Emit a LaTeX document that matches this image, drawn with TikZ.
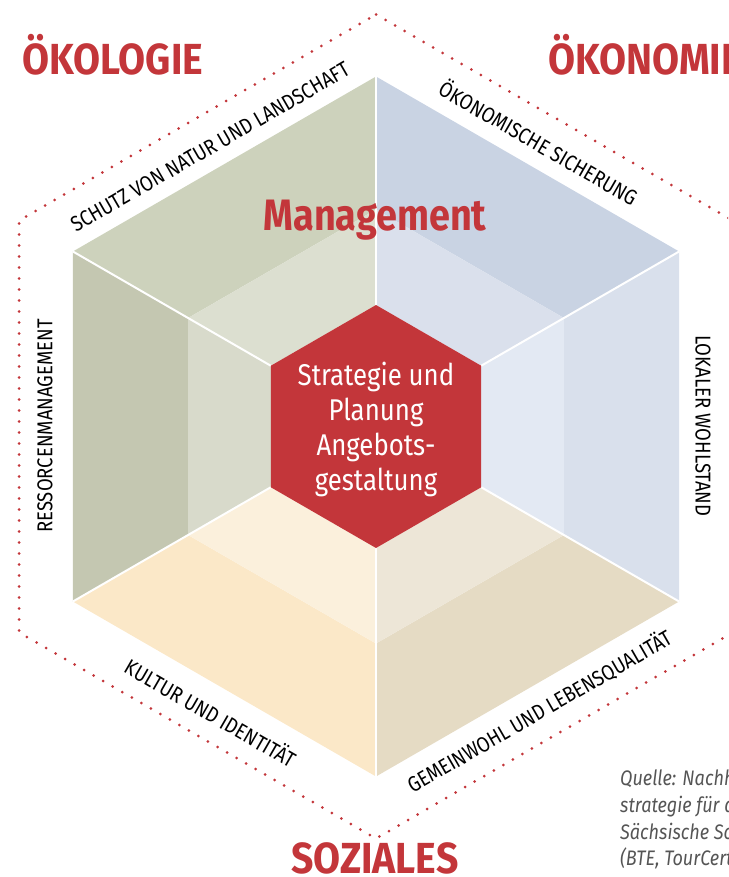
\documentclass[tikz,border=0pt]{standalone}
\usepackage{fontspec}
\setmainfont{Fira Sans}[FakeStretch=0.86]
\newfontfamily\titlefam{Fira Sans}[FakeStretch=0.9]
\definecolor{hexred}{HTML}{C3363A}
\definecolor{tlout}{HTML}{CDD2BC}
\definecolor{tlin}{HTML}{DCDFD0}
\definecolor{lout}{HTML}{C4C7B1}
\definecolor{lin}{HTML}{D8DACB}
\definecolor{trout}{HTML}{C9D3E3}
\definecolor{trin}{HTML}{DAE0EC}
\definecolor{rout}{HTML}{D9E0EC}
\definecolor{rin}{HTML}{E3E9F3}
\definecolor{brout}{HTML}{E5DBC4}
\definecolor{brin}{HTML}{EDE6D7}
\definecolor{blout}{HTML}{FBE8C8}
\definecolor{blin}{HTML}{FBF0DC}
\definecolor{srcgray}{HTML}{555555}
\tikzset{
  spoke/.style={draw=white, line width=2pt},
  dotline/.style={draw=hexred, line width=3pt, dash pattern=on 0pt off 11pt, line cap=round},
  edgelabel/.style={font=\fontsize{21.5}{21.5}\selectfont, text=black, inner sep=0pt},
  titletext/.style={font=\titlefam\fontsize{43.5}{43.5}\selectfont\bfseries, text=hexred, inner sep=0pt},
  mgmttext/.style={font=\fontsize{44}{44}\selectfont\bfseries, text=hexred, inner sep=0pt},
  coretext/.style={font=\fontsize{30}{35}\selectfont, text=white, align=center, inner sep=0pt},
  srctext/.style={font=\fontsize{21}{26}\selectfont\itshape, text=srcgray, inner sep=0pt, anchor=base west}
}
\begin{document}
\begin{tikzpicture}[x=1pt,y=-1pt]
\useasboundingbox (0,0) rectangle (728,877);
\begin{scope}
\clip (0,0) rectangle (728,877);
% outer hexagon vertices
\coordinate (O1) at (376,76.5);
\coordinate (O2) at (679.1,251.5);
\coordinate (O3) at (679.1,601.5);
\coordinate (O4) at (376,776.5);
\coordinate (O5) at (72.9,601.5);
\coordinate (O6) at (72.9,251.5);
% middle hexagon
\coordinate (M1) at (376,209.5);
\coordinate (M2) at (563.9,318);
\coordinate (M3) at (563.9,535);
\coordinate (M4) at (376,643.5);
\coordinate (M5) at (188.1,535);
\coordinate (M6) at (188.1,318);
% inner hexagon
\coordinate (I1) at (376,305);
\coordinate (I2) at (481.2,365.75);
\coordinate (I3) at (481.2,487.25);
\coordinate (I4) at (376,548);
\coordinate (I5) at (270.8,487.25);
\coordinate (I6) at (270.8,365.75);
% dotted hexagon
\coordinate (D1) at (376,14.5);
\coordinate (D2) at (732.8,220.5);
\coordinate (D3) at (732.8,632.5);
\coordinate (D4) at (376,838.5);
\coordinate (D5) at (19.2,632.5);
\coordinate (D6) at (19.2,220.5);

% sectors: outer parts
\fill[tlout] (O6)--(O1)--(M1)--(M6)--cycle;
\fill[trout] (O1)--(O2)--(M2)--(M1)--cycle;
\fill[rout] (O2)--(O3)--(M3)--(M2)--cycle;
\fill[brout] (O3)--(O4)--(M4)--(M3)--cycle;
\fill[blout] (O4)--(O5)--(M5)--(M4)--cycle;
\fill[lout] (O5)--(O6)--(M6)--(M5)--cycle;
% sectors: inner parts
\fill[tlin] (M6)--(M1)--(I1)--(I6)--cycle;
\fill[trin] (M1)--(M2)--(I2)--(I1)--cycle;
\fill[rin] (M2)--(M3)--(I3)--(I2)--cycle;
\fill[brin] (M3)--(M4)--(I4)--(I3)--cycle;
\fill[blin] (M4)--(M5)--(I5)--(I4)--cycle;
\fill[lin] (M5)--(M6)--(I6)--(I5)--cycle;
% spokes
\draw[spoke] (O1)--(I1);
\draw[spoke] (O2)--(I2);
\draw[spoke] (O3)--(I3);
\draw[spoke] (O4)--(I4);
\draw[spoke] (O5)--(I5);
\draw[spoke] (O6)--(I6);
% red core
\fill[hexred] (I1)--(I2)--(I3)--(I4)--(I5)--(I6)--cycle;
% dotted frame
\draw[dotline] (D1)--(D2)--(D3)--(D4)--(D5)--(D6)--cycle;

% titles
\node[titletext, anchor=base west] (oeko) at (22,75) {ÖKOLOGIE};
\node[titletext, anchor=base west] (oekon) at (548,75) {ÖKONOMIE};
\node[titletext, anchor=base] (soz) at (375,873) {SOZIALES};
\node[mgmttext, anchor=base] (mgmt) at (375,230) {Management};

% core text
\node[coretext] (core) at (376,429) {Strategie und\\Planung\\Angebots-\\gestaltung};

% edge labels
\node[edgelabel, rotate=30] (schutz) at (210,147) {SCHUTZ VON NATUR UND LANDSCHAFT};
\node[edgelabel, rotate=-30] (sicher) at (539,142) {ÖKONOMISCHE SICHERUNG};
\node[edgelabel, rotate=90] (ress) at (45,426) {RESSORCENMANAGEMENT};
\node[edgelabel, rotate=-90] (lokal) at (703,426) {LOKALER WOHLSTAND};
\node[edgelabel, rotate=-30] (kultur) at (211,712) {KULTUR UND IDENTITÄT};
\node[edgelabel, rotate=30] (gemein) at (539,711) {GEMEINWOHL UND LEBENSQUALITÄT};

% source
\node[srctext] (src1) at (620,785) {Quelle: Nachhaltigkeits-};
\node[srctext] (src2) at (620,812) {strategie für die};
\node[srctext] (src3) at (620,839) {Sächsische Schweiz};
\node[srctext] (src4) at (620,865) {(BTE, TourCert)};
\end{scope}
\end{tikzpicture}
\end{document}
